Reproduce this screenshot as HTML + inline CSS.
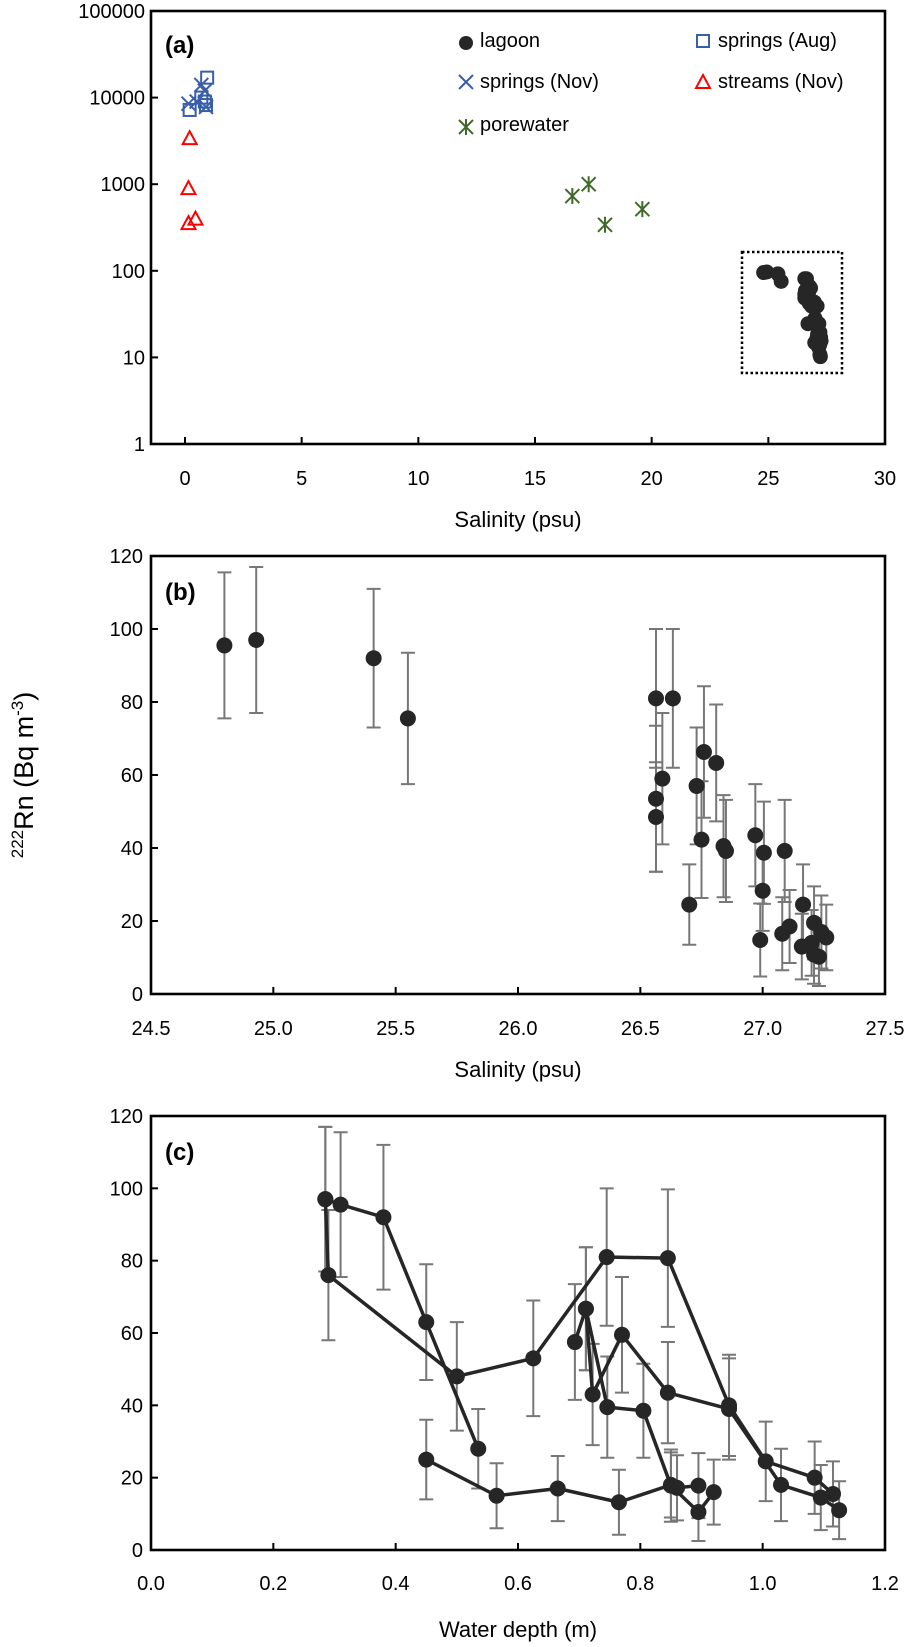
<!DOCTYPE html>
<html><head><meta charset="utf-8">
<style>
html,body{margin:0;padding:0;background:#fff;}
svg{display:block;font-family:"Liberation Sans",sans-serif;}
</style></head>
<body>
<svg id="chart" width="909" height="1647" viewBox="0 0 909 1647" xmlns="http://www.w3.org/2000/svg"></svg>
<script>
// ---------- Panel (a) data ----------
const aTicksX = [0,5,10,15,20,25,30];
const aTicksY = [1,10,100,1000,10000,100000];
const aTickLabelsY = ["1","10","100","1000","10000","100000"];
const springsAugSal = [0.2,0.95,0.7,0.9,0.85];
const springsAugRn = [7200,17000,10000,8200,9000];
const springsNovSal = [0.15,0.7,0.9,0.5,0.85];
const springsNovRn = [8500,14000,7800,9000,12000];
const streamsSal = [0.2,0.15,0.15,0.45];
const streamsRn = [3400,900,355,400];
const poreSal = [16.6,17.3,18.0,19.6];
const poreRn = [730,1000,340,515];

// ---------- Panel (b) data ----------
const bTicksX = [24.5,25.0,25.5,26.0,26.5,27.0,27.5];
const bTicksY = [0,20,40,60,80,100,120];
const lagSal = [24.8,24.93,25.41,25.55,26.564,26.633,26.564,26.564,26.59,26.73,26.76,26.81,26.75,26.70,26.84,26.85,26.97,27.005,27.09,27.0,26.99,27.08,27.11,27.165,27.16,27.21,27.24,27.26,27.21,27.23,27.2];
const lagRn = [95.5,97,92,75.5,81,81,53.5,48.5,59,57,66.3,63.3,42.3,24.5,40.5,39.2,43.5,38.7,39.2,28.3,14.8,16.5,18.5,24.5,13,19.5,17,15.5,10.8,10.2,14];
const lagErr = [20,20,19,18,19,19,20,15,18,16,18,16,16,11,14,14,14,14,14,11,10,10,10,11,9,10,10,9,8,8,9];

// ---------- Panel (c) data ----------
const cTicksX = [0.0,0.2,0.4,0.6,0.8,1.0,1.2];
const cTicksY = [0,20,40,60,80,100,120];
const line1Depth = [0.285,0.31,0.38,0.45,0.535];
const line1Rn = [97,95.5,92,63,28];
const line1Err = [20,20,20,16,11];
const line2Depth = [0.285,0.29,0.50,0.625,0.745,0.845,0.945,1.005,1.085,1.115];
const line2Rn = [97,76,48,53,81,80.7,40,24.5,20,15.5];
const line2Err = [20,18,15,16,19,19,14,11,10,9];
const line3Depth = [0.693,0.711,0.722,0.77,0.845,0.945,1.03,1.095,1.125];
const line3Rn = [57.5,66.7,43,59.5,43.5,39,18,14.5,11];
const line3Err = [16,17,14,16,14,14,10,9,8];
const line4Depth = [0.711,0.746,0.805,0.85,0.895,0.92];
const line4Rn = [66.7,39.5,38.5,17.8,10.5,16];
const line4Err = [17,14,13,10,8,9];
const line5Depth = [0.45,0.565,0.665,0.765,0.85,0.86,0.895];
const line5Rn = [25,15,17,13.2,18,17.2,17.8];
const line5Err = [11,9,9,9,9,9,9];

const NS = "http://www.w3.org/2000/svg";
const svg = document.getElementById("chart");
function mk(tag, attrs, parent){
  const e = document.createElementNS(NS, tag);
  for (const k in attrs) e.setAttribute(k, attrs[k]);
  (parent||svg).appendChild(e);
  return e;
}
const L = 151, R = 885;

// axis scales
const ax = v => 185 + (v - 0) * (700/30);
const ay = v => 444 - Math.log10(v) * 86.6;
const bx = v => L + (v - 24.5) * (R - L) / 3;
const by = v => 994 - v * (438/120);
const cx = v => L + v * (R - L) / 1.2;
const cy = v => 1550 - v * (434/120);

function frame(name, top, bottom){
  const r = mk("rect",{x:L,y:top,width:R-L,height:bottom-top,fill:"none",stroke:"#000","stroke-width":2.6});
  
  
}
function tickLabel(x,y,txt,anchor,name){
  const t = mk("text",{x:x,y:y,"font-size":20,"text-anchor":anchor,fill:"#000"});
  t.textContent = txt;
  
  
}

// ---------- Panel (a) ----------
frame("panel-a-frame", 11, 444);
aTicksY.forEach((v,i)=>{
  mk("line",{x1:L,x2:L+7,y1:ay(v),y2:ay(v),stroke:"#000","stroke-width":2});
  tickLabel(L-6, ay(v)+7, aTickLabelsY[i], "end", "panel-a-y-tick-label");
});
aTicksX.forEach(v=>{
  mk("line",{x1:ax(v),x2:ax(v),y1:444,y2:437,stroke:"#000","stroke-width":2});
  tickLabel(ax(v), 485, String(v), "middle", "panel-a-x-tick-label");
});
{const t = mk("text",{x:518,y:527,"font-size":22,"text-anchor":"middle"}); t.textContent="Salinity (psu)";
 }
{const t = mk("text",{x:165,y:53,"font-size":24,"font-weight":"bold"}); t.textContent="(a)";
 }

// dotted box
{const r = mk("rect",{x:742,y:252,width:100,height:121,fill:"none",stroke:"#000","stroke-width":2.5,"stroke-dasharray":"2.5,2.5"});
 }

springsAugSal.forEach((s,i)=>{
  const x=ax(s), y=ay(springsAugRn[i]);
  const e = mk("rect",{x:x-6,y:y-6,width:12,height:12,fill:"none",stroke:"#3a5ea8","stroke-width":2});
   
});
springsNovSal.forEach((s,i)=>{
  const x=ax(s), y=ay(springsNovRn[i]);
  const e = mk("path",{d:`M${x-7} ${y-7}L${x+7} ${y+7}M${x-7} ${y+7}L${x+7} ${y-7}`,stroke:"#3a5ea8","stroke-width":2,fill:"none"});
   
});
streamsSal.forEach((s,i)=>{
  const x=ax(s), y=ay(streamsRn[i]);
  const e = mk("path",{d:`M${x} ${y-7}L${x+7} ${y+6}L${x-7} ${y+6}Z`,stroke:"#f00","stroke-width":2,fill:"none"});
   
});
function star(x,y,col,name){
  const e = mk("path",{d:`M${x-7} ${y-7}L${x+7} ${y+7}M${x-7} ${y+7}L${x+7} ${y-7}M${x} ${y-8}L${x} ${y+8}`,stroke:col,"stroke-width":2,fill:"none"});
   
}
poreSal.forEach((s,i)=>star(ax(s), ay(poreRn[i]), "#3f6a2a", "porewater-point"));
lagSal.forEach((s,i)=>{
  const e = mk("circle",{cx:ax(s),cy:ay(lagRn[i]),r:7.5,fill:"#262626"});
   
});

// legend
function legText(x,y,txt,name){
  const t = mk("text",{x:x,y:y,"font-size":20,fill:"#000"}); t.textContent = txt;
   
}
{const e=mk("circle",{cx:466,cy:43,r:7,fill:"#262626"});  }
legText(480,47,"lagoon","legend-lagoon");
{const e=mk("rect",{x:697,y:35,width:12,height:12,fill:"none",stroke:"#3a5ea8","stroke-width":2});  }
legText(718,47,"springs (Aug)","legend-springs-aug");
{const e=mk("path",{d:"M459 75L473 89M459 89L473 75",stroke:"#3a5ea8","stroke-width":2});  }
legText(480,88,"springs (Nov)","legend-springs-nov");
{const e=mk("path",{d:"M703 75L710 88L696 88Z",stroke:"#f00","stroke-width":2,fill:"none"});  }
legText(718,88,"streams (Nov)","legend-streams-nov");
star(466,127,"#3f6a2a","legend-porewater-marker");
legText(480,131,"porewater","legend-porewater");

// ---------- Panel (b) ----------
frame("panel-b-frame", 556, 994);
bTicksY.forEach(v=>{
  mk("line",{x1:L,x2:L+7,y1:by(v),y2:by(v),stroke:"#000","stroke-width":2});
  tickLabel(L-8, by(v)+7, String(v), "end", "panel-b-y-tick-label");
});
bTicksX.forEach(v=>{
  mk("line",{x1:bx(v),x2:bx(v),y1:994,y2:987,stroke:"#000","stroke-width":2});
  tickLabel(bx(v), 1035, v.toFixed(1), "middle", "panel-b-x-tick-label");
});
{const t = mk("text",{x:518,y:1077,"font-size":22,"text-anchor":"middle"}); t.textContent="Salinity (psu)";
 }
{const t = mk("text",{x:165,y:600,"font-size":24,"font-weight":"bold"}); t.textContent="(b)";
 }
function errbar(x,yv,ev,ys,name){
  const y1=ys(yv+ev), y2=ys(Math.max(0,yv-ev));
  const e = mk("path",{d:`M${x} ${y1}L${x} ${y2}M${x-7} ${y1}L${x+7} ${y1}M${x-7} ${y2}L${x+7} ${y2}`,stroke:"#777","stroke-width":2,fill:"none"});
   
}
lagSal.forEach((s,i)=>errbar(bx(s),lagRn[i],lagErr[i],by,"panel-b-error-bar"));
lagSal.forEach((s,i)=>{
  const e = mk("circle",{cx:bx(s),cy:by(lagRn[i]),r:8,fill:"#262626"});
   
});

// ---------- Panel (c) ----------
frame("panel-c-frame", 1116, 1550);
cTicksY.forEach(v=>{
  mk("line",{x1:L,x2:L+7,y1:cy(v),y2:cy(v),stroke:"#000","stroke-width":2});
  tickLabel(L-8, cy(v)+7, String(v), "end", "panel-c-y-tick-label");
});
cTicksX.forEach(v=>{
  mk("line",{x1:cx(v),x2:cx(v),y1:1550,y2:1543,stroke:"#000","stroke-width":2});
  tickLabel(cx(v), 1590, v.toFixed(1), "middle", "panel-c-x-tick-label");
});
{const t = mk("text",{x:518,y:1637,"font-size":22,"text-anchor":"middle"}); t.textContent="Water depth (m)";
 }
{const t = mk("text",{x:165,y:1160,"font-size":24,"font-weight":"bold"}); t.textContent="(c)";
 }
const lines = [[line1Depth,line1Rn,line1Err],[line2Depth,line2Rn,line2Err],[line3Depth,line3Rn,line3Err],[line4Depth,line4Rn,line4Err],[line5Depth,line5Rn,line5Err]];
lines.forEach(([d,r,e])=>d.forEach((v,i)=>errbar(cx(v),r[i],e[i],cy,"panel-c-error-bar")));
lines.forEach(([d,r],k)=>{
  const pts = d.map((v,i)=>cx(v)+","+cy(r[i])).join(" ");
  const p = mk("polyline",{points:pts,fill:"none",stroke:"#262626","stroke-width":3.5,"stroke-linejoin":"round"});
  
  
});
lines.forEach(([d,r])=>d.forEach((v,i)=>{
  const e = mk("circle",{cx:cx(v),cy:cy(r[i]),r:8,fill:"#262626"});
   
}));

// shared y-axis title
{const t = mk("text",{x:0,y:0,"font-size":27,"text-anchor":"middle",transform:"translate(33,775) rotate(-90)"});
const s1 = mk("tspan",{"font-size":17,dy:-10},t); s1.textContent="222";
const s2 = mk("tspan",{dy:10},t); s2.textContent="Rn (Bq m";
const s3 = mk("tspan",{"font-size":17,dy:-10},t); s3.textContent="-3";
const s4 = mk("tspan",{dy:10},t); s4.textContent=")";
 }
</script>
</body></html>
